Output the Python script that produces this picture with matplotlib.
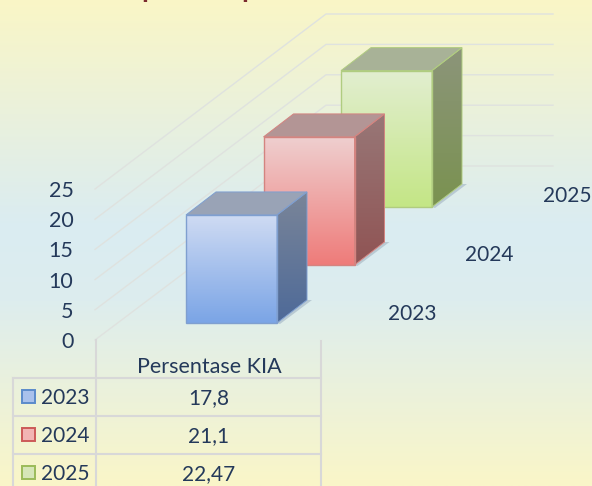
import numpy as np
import matplotlib
matplotlib.use("Agg")
import matplotlib.pyplot as plt
from matplotlib.patches import Polygon, Rectangle
from matplotlib.colors import LinearSegmentedColormap

years = ["2023", "2024", "2025"]
values = [17.8, 21.1, 22.47]
value_labels = ["17,8", "21,1", "22,47"]
series_name = "Persentase KIA"
y_ticks = [0, 5, 10, 15, 20, 25]

W, H = 592, 486
TXT = "#24395A"
GRID = "#DFE2DF"
plt.rcParams['font.family'] = ['Lato', 'DejaVu Sans']
fig = plt.figure(figsize=(W/100, H/100), dpi=100)
ax = fig.add_axes([0, 0, 1, 1])
ax.set_xlim(0, W); ax.set_ylim(H, 0); ax.axis("off")

bg = LinearSegmentedColormap.from_list("bg", [(0, "#FAF6C6"), (0.47, "#DAECF2"), (0.62, "#DDEDEE"), (1, "#FAF6C8")])
ax.imshow(np.linspace(0, 1, 256)[:, None], cmap=bg, extent=(0, W, H, 0), aspect="auto", zorder=0, vmin=0, vmax=1)

# clipped title: only its descenders are visible at the top edge
for px in (141, 241):
    ax.text(px, -2.5, "p", ha="left", va="baseline", fontsize=20, fontweight="bold", color="#7A2A2E", clip_on=True)

UNIT = 6.07
FX, FY = 95, 340           # front floor corner
BX, BY = 326, 166          # back floor corner
RX = 553
for t in y_ticks:
    k = t / 5
    ax.plot([FX, BX, RX], [FY - k * 30.2, BY - k * 30.4, BY - k * 30.4], color=GRID, lw=1.0, zorder=1)
    ax.text(73.5, FY + 2 - k * 30.2, str(t), ha="right", va="center", fontsize=15.5, color=TXT)

def vgrad(x0, x1, y0, y1, c0, c1, z):
    cm = LinearSegmentedColormap.from_list("g", [c0, c1])
    ax.imshow(np.linspace(0, 1, 64)[:, None], cmap=cm, extent=(x0, x1, y1, y0), aspect="auto", zorder=z)

styles = [
    dict(top="#99A3B6", side0="#7A8599", side1="#4E6A98", f0="#CFDBF3", f1="#7BA5E6", edge="#7F9FD0", shadow="#B9CAD3"),
    dict(top="#B39595", side0="#987777", side1="#905454", f0="#EFCFCF", f1="#EE7C7A", edge="#D48480", shadow="#B9CAD3"),
    dict(top="#A8B297", side0="#8C957A", side1="#7A9250", f0="#E2EED0", f1="#C4E686", edge="#B0CC80", shadow="#B9CAD3"),
]
BAR_W, DX, DY = 91, 30, 23
STEP_X, STEP_Y = 77.5, 58
X0, BASE0 = 186, 323
for i, (v, s) in enumerate(zip(values, styles)):
    z = 10 + i * -2 + 4
    x0 = X0 + i * STEP_X
    x1 = x0 + BAR_W
    yb = BASE0 - i * STEP_Y
    yt = yb - v * UNIT
    ax.add_patch(Polygon([(x1, yb), (x1 + DX, yb - DY), (x1 + DX + 5, yb - DY), (x1 + 3, yb + 1)], closed=True, fc=s["shadow"], ec="none", zorder=z))
    vgrad(x0, x1, yt, yb, s["f0"], s["f1"], z + .1)
    ax.add_patch(Rectangle((x0, yt), BAR_W, yb - yt, fc="none", ec=s["edge"], lw=1.0, zorder=z + .4))
    ax.add_patch(Polygon([(x0, yt), (x0 + DX, yt - DY), (x1 + DX, yt - DY), (x1, yt)], closed=True, fc=s["top"], ec=s["edge"], lw=.7, zorder=z + .3))
    ax.add_patch(Polygon([(x1, yt), (x1 + DX, yt - DY), (x1 + DX, yb - DY), (x1, yb)], closed=True, fc="none", ec=s["edge"], lw=.7, zorder=z + .3))
    cm = LinearSegmentedColormap.from_list("s", [s["side0"], s["side1"]])
    im = ax.imshow(np.linspace(0, 1, 64)[:, None], cmap=cm, extent=(x1, x1 + DX, yb, yt - DY), aspect="auto", zorder=z + .2)
    im.set_clip_path(Polygon([(x1, yt), (x1 + DX, yt - DY), (x1 + DX, yb - DY), (x1, yb)], closed=True, transform=ax.transData))
    ax.set_xlim(0, W); ax.set_ylim(H, 0)

for i, y in enumerate(years):
    ax.text(412 + i * 77.5, 314 - i * 59, y, ha="center", va="center", fontsize=15, color=TXT)

# data table
TC = "#D8D8D8"
rows = [378, 416, 454]
for y in rows:
    ax.plot([13, 321], [y, y], color=TC, lw=1.5, zorder=3)
ax.plot([96, 96], [340, H], color=TC, lw=1.5, zorder=3)
ax.plot([321, 321], [341, H], color=TC, lw=1.5, zorder=3)
ax.plot([13, 13], [378, H], color=TC, lw=1.5, zorder=3)
ax.text(209, 367, series_name, ha="center", va="center", fontsize=15.5, color=TXT)
swatches = [("#A9C1EC", "#5B8BCB"), ("#F2B5B3", "#CC5A58"), ("#D6E6B8", "#9BBB59")]
for y, lab, val, (fc, ec) in zip(rows, years, value_labels, swatches):
    ax.add_patch(Rectangle((21.5, y + 12), 13, 13, fc=fc, ec=ec, lw=1.4, zorder=4))
    ax.text(41, y + 20, lab, ha="left", va="center", fontsize=15, color=TXT)
    ax.text(209, y + 20.5, val, ha="center", va="center", fontsize=15, color=TXT)

fig.savefig("out.png", dpi=100)
